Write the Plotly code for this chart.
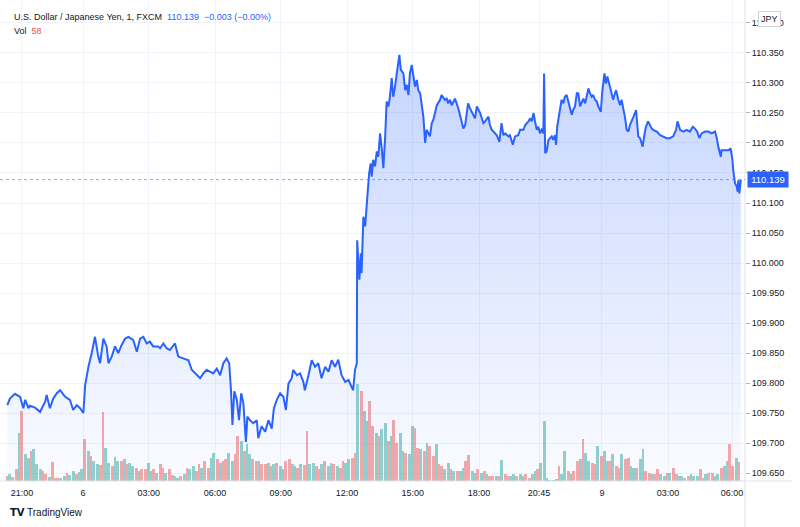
import plotly.graph_objects as go

# ---------------- data ----------------
# price series: bar index (1-minute bars, session-compressed timeline) and close price
BARS = [1, 8, 22, 36, 45, 50, 59, 63, 77, 91, 105, 109, 118, 127, 137, 146, 160, 173, 182, 192,
        201, 210, 215, 224, 233, 242, 251, 256, 265, 274, 279, 288, 297, 306, 315, 325, 334, 347, 357, 366,
        375, 384, 393, 402, 416, 421, 430, 439, 448, 457, 462, 471, 485, 499, 508, 522, 531, 540, 549, 558,
        567, 577, 586, 595, 604, 611, 616, 620, 625, 632, 638, 644, 650, 657, 661, 668, 677, 687, 691, 700,
        710, 719, 728, 734, 742, 751, 760, 767, 774, 783, 787, 797, 806, 815, 819, 829, 838, 847, 856, 865,
        875, 884, 893, 902, 911, 920, 930, 939, 952, 957, 962, 963, 969, 973, 975, 978, 980, 985, 987, 991,
        996, 1000, 1003, 1007, 1012, 1017, 1021, 1026, 1030, 1035, 1040, 1044, 1049, 1053, 1058, 1062, 1067, 1073, 1079, 1083,
        1090, 1095, 1099, 1104, 1108, 1113, 1117, 1122, 1127, 1131, 1136, 1140, 1145, 1150, 1154, 1159, 1163, 1168, 1172, 1177,
        1182, 1191, 1195, 1204, 1209, 1213, 1218, 1223, 1232, 1241, 1246, 1255, 1260, 1264, 1268, 1273, 1282, 1287, 1292, 1301,
        1310, 1315, 1324, 1328, 1333, 1347, 1354, 1360, 1365, 1370, 1379, 1383, 1391, 1397, 1406, 1411, 1420, 1425, 1434, 1439,
        1443, 1448, 1452, 1457, 1461, 1466, 1471, 1475, 1477, 1479, 1480, 1484, 1489, 1498, 1502, 1507, 1510, 1513, 1519, 1525,
        1530, 1534, 1539, 1543, 1548, 1553, 1557, 1562, 1567, 1571, 1576, 1580, 1585, 1590, 1594, 1599, 1603, 1608, 1612, 1617,
        1622, 1626, 1633, 1637, 1643, 1647, 1651, 1656, 1663, 1667, 1672, 1675, 1681, 1686, 1690, 1695, 1700, 1704, 1709, 1713,
        1718, 1723, 1730, 1733, 1736, 1741, 1748, 1752, 1757, 1763, 1768, 1773, 1777, 1787, 1796, 1805, 1814, 1823, 1832, 1840,
        1844, 1851, 1860, 1869, 1878, 1886, 1892, 1898, 1904, 1910, 1920, 1929, 1938, 1947, 1952, 1956, 1963, 1965, 1975, 1984,
        1990, 1995, 1997, 2002, 2007, 2009, 2011, 2014, 2018]

PRICES = [109.763, 109.774, 109.782, 109.777, 109.758, 109.772, 109.758, 109.762, 109.759, 109.752,
          109.769, 109.780, 109.758, 109.774, 109.783, 109.788, 109.777, 109.772, 109.755, 109.763,
          109.758, 109.750, 109.797, 109.827, 109.850, 109.877, 109.844, 109.833, 109.874, 109.861,
          109.833, 109.844, 109.861, 109.850, 109.863, 109.874, 109.877, 109.872, 109.852, 109.874,
          109.877, 109.866, 109.869, 109.861, 109.861, 109.858, 109.866, 109.858, 109.855, 109.861,
          109.866, 109.844, 109.841, 109.838, 109.822, 109.813, 109.808, 109.816, 109.822, 109.819,
          109.816, 109.824, 109.813, 109.833, 109.841, 109.833, 109.788, 109.730, 109.786, 109.772,
          109.738, 109.783, 109.766, 109.702, 109.744, 109.738, 109.733, 109.738, 109.708, 109.728,
          109.719, 109.738, 109.724, 109.758, 109.772, 109.783, 109.777, 109.755, 109.799, 109.808,
          109.822, 109.813, 109.816, 109.802, 109.788, 109.813, 109.838, 109.827, 109.833, 109.808,
          109.827, 109.819, 109.838, 109.827, 109.839, 109.813, 109.802, 109.805, 109.788, 109.822,
          109.833, 110.038, 109.972, 110.016, 109.983, 110.038, 110.077, 110.061, 110.083, 110.111,
          110.150, 110.166, 110.144, 110.172, 110.161, 110.186, 110.177, 110.216, 110.194, 110.158,
          110.211, 110.269, 110.261, 110.277, 110.308, 110.277, 110.294, 110.319, 110.347, 110.322,
          110.316, 110.288, 110.297, 110.280, 110.316, 110.330, 110.316, 110.294, 110.305, 110.288,
          110.283, 110.261, 110.244, 110.200, 110.222, 110.216, 110.211, 110.233, 110.238, 110.250,
          110.263, 110.272, 110.280, 110.272, 110.274, 110.266, 110.272, 110.263, 110.274, 110.258,
          110.244, 110.224, 110.230, 110.250, 110.266, 110.258, 110.247, 110.241, 110.261, 110.250,
          110.233, 110.236, 110.244, 110.230, 110.222, 110.213, 110.202, 110.233, 110.213, 110.216,
          110.211, 110.213, 110.197, 110.211, 110.213, 110.222, 110.222, 110.230, 110.236, 110.241,
          110.236, 110.250, 110.236, 110.222, 110.227, 110.216, 110.224, 110.216, 110.316, 110.227,
          110.183, 110.186, 110.205, 110.211, 110.205, 110.213, 110.197, 110.227, 110.250, 110.272,
          110.266, 110.277, 110.280, 110.269, 110.255, 110.247, 110.255, 110.261, 110.283, 110.283,
          110.261, 110.266, 110.274, 110.266, 110.277, 110.291, 110.283, 110.277, 110.280, 110.272,
          110.269, 110.261, 110.252, 110.286, 110.316, 110.299, 110.311, 110.297, 110.283, 110.272,
          110.283, 110.288, 110.272, 110.263, 110.272, 110.258, 110.241, 110.222, 110.219, 110.230,
          110.236, 110.244, 110.255, 110.238, 110.211, 110.208, 110.194, 110.211, 110.227, 110.236,
          110.230, 110.224, 110.222, 110.219, 110.213, 110.211, 110.208, 110.208, 110.211, 110.222,
          110.236, 110.222, 110.219, 110.222, 110.219, 110.227, 110.224, 110.219, 110.208, 110.216,
          110.219, 110.219, 110.216, 110.219, 110.208, 110.194, 110.177, 110.188, 110.188, 110.188,
          110.191, 110.172, 110.155, 110.133, 110.127, 110.119, 110.138, 110.116, 110.139]

# volume, one value per ~8-minute group of bars, and its candle direction (u = up, d = down)
VOL_STEP = 8.25
VOLUME = [15, 21, 12, 36, 144, 210, 81, 69, 90, 96, 51, 36, 30, 21, 12, 57, 9, 9, 9, 15,
          24, 18, 30, 21, 27, 36, 126, 90, 75, 60, 51, 48, 207, 99, 54, 45, 72, 60, 60, 66,
          51, 54, 45, 39, 30, 36, 36, 54, 30, 36, 24, 51, 39, 24, 36, 18, 15, 9, 15, 21,
          39, 36, 45, 30, 51, 39, 60, 39, 69, 84, 66, 54, 60, 66, 84, 60, 81, 135, 120, 90,
          111, 81, 66, 60, 60, 51, 51, 54, 45, 51, 54, 45, 36, 60, 66, 51, 45, 39, 51, 48,
          150, 51, 54, 45, 36, 51, 60, 45, 54, 51, 45, 39, 60, 54, 66, 69, 84, 291, 270, 210,
          180, 240, 165, 144, 135, 156, 174, 120, 135, 183, 114, 144, 90, 84, 81, 165, 159, 99, 96, 90,
          114, 105, 75, 111, 51, 45, 36, 54, 36, 30, 30, 30, 39, 60, 78, 30, 24, 36, 24, 30,
          21, 15, 15, 15, 15, 63, 21, 15, 15, 21, 15, 21, 15, 21, 9, 21, 30, 36, 54, 180,
          9, 3, 3, 6, 45, 21, 90, 30, 21, 30, 60, 66, 126, 84, 60, 54, 51, 105, 75, 90,
          60, 60, 81, 45, 39, 81, 66, 69, 45, 39, 39, 66, 96, 30, 24, 21, 21, 36, 21, 15,
          24, 24, 39, 21, 15, 15, 9, 15, 21, 15, 15, 36, 9, 21, 24, 24, 15, 21, 39, 45,
          60, 111, 45, 69, 58]
VOL_DIR = ("dudduduudu" "uudduddduu" "duuduududu" "udduuduudu" "duududduud"
           "uddudduudu" "duuddudduu" "dudduuddud" "uudduddudu" "duudduudud"
           "duudduduud" "udduuddudu" "udduduudud" "duuduuddud" "uddudduudu"
           "duudduudud" "uddududduu" "duudduuduu" "uuuuduudud" "duduuddudu"
           "ududdudduu" "duuddudduu" "dudduudduu" "uddudduudu" "uddud")

# axis ticks
X_TICKS = [41, 209, 390, 572, 753, 935, 1116, 1298, 1463, 1636, 1818, 1994]
X_LABELS = ["21:00", "6", "03:00", "06:00", "09:00", "12:00", "15:00", "18:00", "20:45", "9", "03:00", "06:00"]
Y_TICKS = [109.65, 109.70, 109.75, 109.80, 109.85, 109.90, 109.95, 110.00,
           110.05, 110.10, 110.15, 110.20, 110.25, 110.30, 110.35, 110.40]
Y_MIN, Y_MAX = 109.6367, 110.4383
X_MIN, X_MAX = -19.25, 2029.5
VOL_MAX = 1443

LAST_PRICE = 110.139
HEADER = "U.S. Dollar / Japanese Yen, 1, FXCM"
CHANGE = "110.139 \u00a0−0.003 (−0.00%)"
LAST_VOL = 58

# ---------------- styling ----------------
BLUE = "#2962FF"
UP = "rgba(38,166,154,0.5)"
DOWN = "rgba(239,83,80,0.5)"
GRID = "#f0f3fa"
TEXT = "#131722"
FONT = "Liberation Sans"

fig = go.Figure()

vol_x = [round(i * VOL_STEP) for i in range(len(VOLUME))]
fig.add_trace(go.Bar(
    x=vol_x, y=VOLUME, width=7.8, yaxis="y",
    marker=dict(color=[UP if c == "u" else DOWN for c in VOL_DIR], line=dict(width=0)),
    hoverinfo="skip", showlegend=False))

fig.add_trace(go.Scatter(
    x=BARS, y=[Y_MIN] * len(BARS), yaxis="y2", mode="lines",
    line=dict(width=0, color="rgba(0,0,0,0)"), hoverinfo="skip", showlegend=False))
fig.add_trace(go.Scatter(
    x=BARS, y=PRICES, yaxis="y2", mode="lines",
    line=dict(color=BLUE, width=2), fill="tonexty",
    fillgradient=dict(type="vertical",
                      colorscale=[[0, "rgba(41,98,255,0.02)"], [1, "rgba(41,98,255,0.27)"]],
                      start=Y_MIN, stop=max(PRICES)),
    hoverinfo="skip", showlegend=False))

W_PLOT, H_PLOT = 745, 481


def px(xp):
    return xp / W_PLOT


def py(yp):
    return 1 - yp / H_PLOT


fig.update_layout(
    width=800, height=527,
    margin=dict(l=0, r=55, t=0, b=46),
    paper_bgcolor="white", plot_bgcolor="white",
    font=dict(family=FONT, size=9, color=TEXT),
    bargap=0,
    xaxis=dict(range=[X_MIN, X_MAX], tickvals=X_TICKS, ticktext=X_LABELS,
               showgrid=True, gridcolor=GRID, gridwidth=1, zeroline=False,
               showline=False, ticks="", tickfont=dict(size=9, color=TEXT),
               ticklabelstandoff=5, automargin=False, fixedrange=True),
    yaxis=dict(range=[0, VOL_MAX], visible=False, showgrid=False, fixedrange=True),
    yaxis2=dict(range=[Y_MIN, Y_MAX], overlaying="y", side="right", anchor="x",
                tickvals=Y_TICKS, ticktext=[f"{v:.3f}" for v in Y_TICKS],
                showgrid=True, gridcolor=GRID, gridwidth=1, zeroline=False,
                ticks="outside", ticklen=4, tickcolor="#b2b5be",
                tickfont=dict(size=9, color=TEXT), automargin=False, fixedrange=True),
    shapes=[
        dict(type="line", xref="paper", yref="paper", x0=0, x1=px(792), y0=0, y1=0,
             line=dict(color="#e0e3eb", width=1)),
        dict(type="line", xref="paper", yref="paper", x0=1, x1=1, y0=py(527), y1=1,
             line=dict(color="#e0e3eb", width=1)),
        dict(type="line", xref="paper", yref="y2", x0=0, x1=1, y0=LAST_PRICE, y1=LAST_PRICE,
             line=dict(color="rgba(41,98,255,0.55)", width=1, dash="dot")),
    ],
    annotations=[
        dict(xref="paper", yref="paper", x=px(12), y=py(17), xanchor="left", yanchor="middle",
             showarrow=False, font=dict(size=9, color=TEXT, family=FONT),
             text=f"{HEADER} \u00a0<span style='color:{BLUE}'>{CHANGE}</span>"),
        dict(xref="paper", yref="paper", x=px(12), y=py(31), xanchor="left", yanchor="middle",
             showarrow=False, font=dict(size=9, color=TEXT, family=FONT),
             text=f"Vol \u00a0<span style='color:#ef5350'>{LAST_VOL}</span>"),
        dict(xref="paper", yref="paper", x=px(769), y=py(19), xanchor="center", yanchor="middle",
             showarrow=False, text="JPY", font=dict(size=9, color=TEXT),
             bgcolor="white", bordercolor="#d1d4dc", borderwidth=1, borderpad=2),
        dict(xref="paper", yref="y2", x=px(747), y=LAST_PRICE, xanchor="left", yanchor="middle",
             showarrow=False, text=f"{LAST_PRICE:.3f}", font=dict(size=9.5, color="white"),
             bgcolor=BLUE, borderpad=2, width=36),
        dict(xref="paper", yref="paper", x=px(8), y=py(512), xanchor="left", yanchor="middle",
             showarrow=False, text="<b>TV</b>", font=dict(size=10, color="#131722", family="DejaVu Sans")),
        dict(xref="paper", yref="paper", x=px(25), y=py(512), xanchor="left", yanchor="middle",
             showarrow=False, text="TradingView", font=dict(size=10, color=TEXT, family=FONT)),
    ],
)

fig.write_html("out.html", config={"displayModeBar": False},
               post_script="document.body.style.margin='0';document.body.style.overflow='hidden';")
